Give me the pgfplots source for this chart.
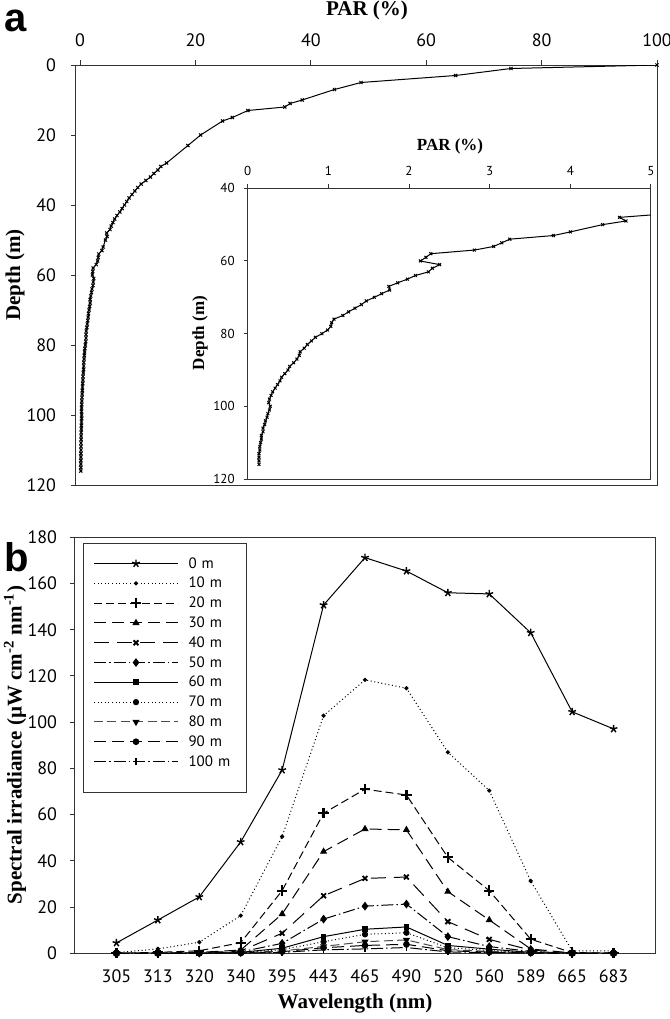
\documentclass[border=0pt]{standalone}
\usepackage{fontspec}
\setmainfont{Liberation Serif}
\newfontfamily\tickfont{PT Sans}
\newfontfamily\panelfont{Liberation Sans}
\usepackage{pgfplots}
\pgfplotsset{compat=1.18}
\usepackage{pgfplotstable}

\pgfplotstableread{
depth par
0 100
1 74.7
3 65.1
5 48.7
7 44.1
10 38.5
11 36.4
12 35.5
13 29.1
15 26.4
16 24.7
20 20.9
23 18.7
28 15.0
29 14.0
30 13.5
31 12.8
32 12.2
33 11.4
34 10.6
35 10.0
36 9.5
37 9.0
38 8.5
39 8.1
40 7.7
41 7.3
42 6.9
43 6.4
44 6.0
45 5.7
46 5.4
47 5.2
48 4.61
49 4.69
50 4.40
52 4.00
53 3.79
54 3.25
55 3.15
56 3.05
57 2.81
58 2.27
59 2.21
60 2.14
61 2.38
62 2.29
63 2.24
64 2.08
65 1.98
66 1.86
67 1.75
68 1.76
69 1.66
70 1.57
71 1.47
72 1.41
73 1.33
74 1.25
75 1.18
76 1.07
77 1.04
78 1.03
79 0.99
80 0.92
81 0.84
82 0.79
83 0.74
84 0.70
85 0.65
86 0.64
87 0.61
88 0.57
89 0.52
90 0.50
91 0.46
92 0.42
93 0.40
94 0.37
95 0.34
96 0.31
97 0.29
98 0.27
99 0.26
100 0.28
101 0.27
102 0.25
103 0.24
104 0.22
105 0.21
106 0.19
107 0.19
108 0.17
109 0.17
110 0.16
111 0.15
112 0.15
113 0.14
114 0.14
115 0.14
116 0.14
}\partable

\pgfplotstableread{
idx d0 d10 d20 d30 d40 d50 d60 d70 d80 d90 d100
0 4.5 0.3 0.05 0 0 0 0 0 0 0 0
1 14.4 1.9 0.4 0.1 0.05 0 0 0 0 0 0
2 24.4 4.8 1.1 0.4 0.2 0.1 0.05 0.03 0.02 0.01 0
3 48.2 16.3 4.6 1.4 1.0 0.6 0.4 0.3 0.2 0.1 0.1
4 79.3 50.5 27.1 17.0 8.7 4.3 2.2 1.6 1.0 0.7 0.4
5 150.7 102.8 60.6 44.0 24.9 14.8 7.2 5.0 3.0 2.4 1.5
6 171.2 118.3 71.0 53.8 32.4 20.4 10.4 8.2 5.0 3.4 1.9
7 165.4 114.7 68.5 53.4 33.0 21.3 11.4 8.9 5.8 3.9 2.5
8 156.0 87.0 41.5 26.7 13.7 7.2 3.4 2.4 1.6 1.1 0.6
9 155.5 70.4 27.1 14.4 6.0 2.9 1.8 1.2 0.8 0.5 0.3
10 138.7 31.3 6.1 1.9 1.4 0.8 0.4 0.3 0.2 0.1 0.05
11 104.5 1.1 0.3 0.1 0.05 0 0 0 0 0 0
12 97.1 1.0 0.1 0.05 0 0 0 0 0 0 0
}\spectable

\begin{document}
\begin{tikzpicture}[x=1pt,y=1pt]
\path[use as bounding box] (0,0) rectangle (335,509.5);

% ---------------- panel a (main) ----------------
\begin{axis}[at={(38pt,267pt)}, anchor=south west, scale only axis,
  width=290.5pt, height=210pt,
  xmin=-0.7, xmax=100, ymin=0, ymax=120, y dir=reverse,
  xtick={0,20,...,100}, ytick={0,20,...,120},
  xtick pos=right, xticklabel pos=right, ytick pos=left,
  tick align=outside, major tick length=2.5pt,
  tick style={black!80, line width=0.5pt},
  axis line style={black!80, line width=0.5pt},
  ticklabel style={font=\tickfont\fontsize{9}{9}\selectfont},
  xticklabel style={yshift=3pt},
  yticklabel style={xshift=-4pt},
  /pgf/number format/assume math mode=true,
  clip=true]
\addplot[black, line width=0.5pt, mark=x, mark size=1.1pt] table[x=par, y=depth] {\partable};
\end{axis}

% ---------------- inset ----------------
\begin{axis}[at={(123.85pt,270pt)}, anchor=south west, scale only axis,
  width=201.65pt, height=145.35pt,
  xmin=0, xmax=5, ymin=40, ymax=120, y dir=reverse,
  xtick={0,1,...,5}, ytick={40,60,...,120},
  xtick pos=right, xticklabel pos=right, ytick pos=left,
  tick align=outside, major tick length=2pt,
  tick style={black!80, line width=0.5pt},
  axis line style={black!80, line width=0.5pt},
  axis background/.style={fill=white},
  ticklabel style={font=\tickfont\fontsize{6.5}{6.5}\selectfont},
  xticklabel style={yshift=1pt},
  yticklabel style={xshift=-1pt},
  /pgf/number format/assume math mode=true,
  clip=true]
\addplot[black, line width=0.5pt, mark=x, mark size=1pt] table[x=par, y=depth] {\partable};
\end{axis}

% ---------------- panel b ----------------
\begin{axis}[at={(37.5pt,32.85pt)}, anchor=south west, scale only axis,
  width=290pt, height=208pt,
  xmin=-1, xmax=13, ymin=0, ymax=180,
  xtick={0,...,12},
  xticklabels={305,313,320,340,395,443,465,490,520,560,589,665,683},
  ytick={0,20,...,180},
  xtick pos=left, ytick pos=left,
  tick align=outside, major tick length=2.5pt,
  x tick style={draw=none},
  y tick style={black!80, line width=0.5pt},
  axis line style={black!80, line width=0.5pt},
  ticklabel style={font=\tickfont\fontsize{9}{9}\selectfont},
  xticklabel style={yshift=-2pt},
  yticklabel style={xshift=-3pt},
  /pgf/number format/assume math mode=true,
  legend style={at={(0.0138,0.986)}, anchor=north west, draw=black!80, line width=0.5pt,
    font=\tickfont\fontsize{7.5}{7.5}\selectfont, inner xsep=5pt, inner ysep=5pt,
    row sep=0pt,
    nodes={inner xsep=2pt, inner ysep=1.7pt, text height=5.5pt, text depth=1pt, text width=22pt, align=left},
    /tikz/every odd column/.append style={column sep=3pt}},
  legend cell align=left,
  legend image code/.code={\draw[mark repeat=2,mark phase=2] plot coordinates {(0pt,0pt) (21pt,0pt) (42pt,0pt)};},
  every axis plot/.append style={black, line width=0.5pt},
  clip=false]
\addplot[solid, mark=star, mark size=2pt, mark options={solid, line width=0.7pt}] table[x=idx, y=d0] {\spectable};
\addlegendentry{0 m}
\addplot[dash pattern=on 0.5pt off 1.3pt, mark=*, mark size=0.8pt, mark options={solid}] table[x=idx, y=d10] {\spectable};
\addlegendentry{10 m}
\addplot[dash pattern=on 4pt off 2pt, mark=+, mark size=2.6pt, mark options={solid, line width=1.1pt}] table[x=idx, y=d20] {\spectable};
\addlegendentry{20 m}
\addplot[dash pattern=on 6pt off 3pt, mark=triangle*, mark size=1.6pt, mark options={solid}] table[x=idx, y=d30] {\spectable};
\addlegendentry{30 m}
\addplot[dash pattern=on 7.5pt off 4pt, mark=x, mark size=1.7pt, mark options={solid, line width=0.9pt}] table[x=idx, y=d40] {\spectable};
\addlegendentry{40 m}
\addplot[dash pattern=on 6pt off 1.5pt on 0.8pt off 1.5pt, mark=diamond*, mark size=1.8pt, mark options={solid}] table[x=idx, y=d50] {\spectable};
\addlegendentry{50 m}
\addplot[solid, mark=square*, mark size=1.2pt, mark options={solid}] table[x=idx, y=d60] {\spectable};
\addlegendentry{60 m}
\addplot[dash pattern=on 0.5pt off 1.3pt, mark=*, mark size=1.3pt, mark options={solid}] table[x=idx, y=d70] {\spectable};
\addlegendentry{70 m}
\addplot[black!70, dash pattern=on 4.5pt off 2.2pt, mark=triangle*, mark size=1.6pt, mark options={solid, rotate=180, black}] table[x=idx, y=d80] {\spectable};
\addlegendentry{80 m}
\addplot[dash pattern=on 6pt off 3pt, mark=*, mark size=1.4pt, mark options={solid}] table[x=idx, y=d90] {\spectable};
\addlegendentry{90 m}
\addplot[dash pattern=on 6pt off 1.5pt on 0.8pt off 1.5pt, mark=|, mark size=1.6pt, mark options={solid, line width=0.8pt}] table[x=idx, y=d100] {\spectable};
\addlegendentry{100 m}
\addlegendimage{empty legend}
\addlegendentry[text height=2pt, text depth=0pt]{}
\end{axis}

% ---------------- labels ----------------
\node[font=\bfseries\fontsize{10.5}{10.5}\selectfont] at (183.5,504.5) {PAR (\%)};
\node[font=\bfseries\fontsize{10.5}{10.5}\selectfont, rotate=90] at (7.5,372) {Depth (m)};
\node[font=\bfseries\fontsize{8.5}{8.5}\selectfont] at (225,436.5) {PAR (\%)};
\node[font=\bfseries\fontsize{8.5}{8.5}\selectfont, rotate=90] at (100,343) {Depth (m)};
\node[font=\bfseries\fontsize{10.5}{10.5}\selectfont] at (177.5,7.5) {Wavelength (nm)};
\node[font=\bfseries\fontsize{10.5}{10.5}\selectfont, rotate=90] at (7.5,137) {Spectral irradiance (µW cm\textsuperscript{-2} nm\textsuperscript{-1})};
\node[font=\panelfont\bfseries\fontsize{20}{20}\selectfont, inner sep=0pt] at (8,499) {a};
\node[font=\panelfont\bfseries\fontsize{20}{20}\selectfont, inner sep=0pt] at (8.5,231) {b};
\end{tikzpicture}
\end{document}
